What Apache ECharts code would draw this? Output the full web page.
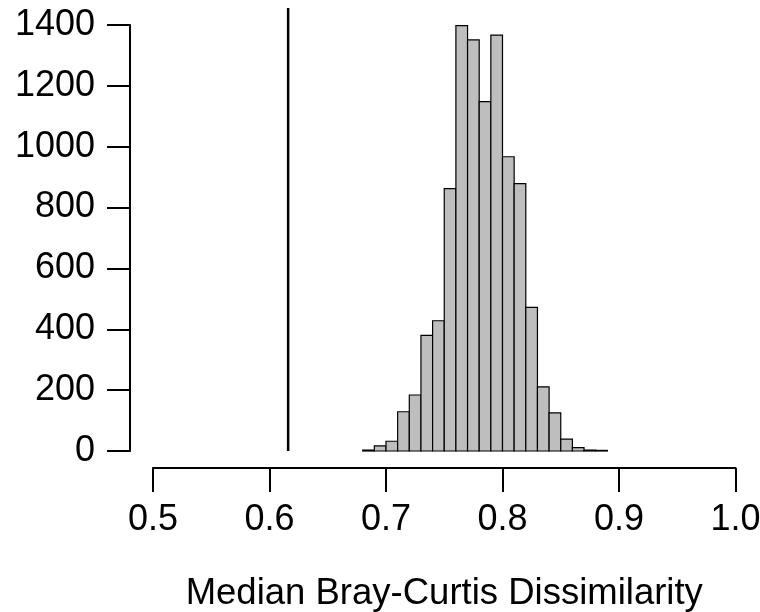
<!DOCTYPE html>
<html>
<head>
<meta charset="utf-8">
<script src="https://cdn.jsdelivr.net/npm/echarts@6/dist/echarts.min.js"></script>
<style>
  html, body { margin: 0; padding: 0; background: #fff; }
  #chart { width: 760px; height: 612px; }
</style>
</head>
<body>
<div id="chart"></div>
<script>
// histogram bins (width 0.01) and counts
const binStarts = [0.68, 0.69, 0.70, 0.71, 0.72, 0.73, 0.74, 0.75, 0.76, 0.77, 0.78,
                   0.79, 0.80, 0.81, 0.82, 0.83, 0.84, 0.85, 0.86, 0.87, 0.88];
const binWidth = 0.01;
const counts = [3, 17, 32, 129, 184, 380, 428, 862, 1398, 1351, 1148,
                1367, 967, 879, 472, 211, 125, 39, 11, 3, 2];
const observed = 0.616;   // observed median dissimilarity (vertical line)
const xTicks = [0.5, 0.6, 0.7, 0.8, 0.9, 1.0];
const yTicks = [0, 200, 400, 600, 800, 1000, 1200, 1400];

const font = 'Liberation Sans, Arial, Helvetica, sans-serif';

const bins = binStarts.map((s, i) => [s, +(s + binWidth).toFixed(2), counts[i]]);

let myChart = echarts.init(document.getElementById('chart'));
let option = {
  animation: false,
  grid: { left: 153, right: 24.5, top: 25, bottom: 161, containLabel: false, outerBoundsMode: 'none' },
  xAxis: {
    type: 'value',
    min: xTicks[0],
    max: xTicks[xTicks.length - 1],
    interval: 0.1,
    offset: 17,
    name: 'Median Bray-Curtis Dissimilarity',
    nameLocation: 'middle',
    nameGap: 107,
    nameMoveOverlap: false,
    nameTextStyle: { color: '#000', fontSize: 36.5, fontFamily: font },
    axisLine: { onZero: false, lineStyle: { color: '#000', width: 2 } },
    axisTick: { length: 24, lineStyle: { color: '#000', width: 2 } },
    axisLabel: {
      color: '#000', fontSize: 36, fontFamily: font, margin: 34,
      formatter: v => v.toFixed(1)
    },
    splitLine: { show: false }
  },
  yAxis: {
    type: 'value',
    min: yTicks[0],
    max: yTicks[yTicks.length - 1],
    interval: 200,
    offset: 23,
    axisLine: { show: true, onZero: false, lineStyle: { color: '#000', width: 2 } },
    axisTick: { show: true, length: 23, lineStyle: { color: '#000', width: 2 } },
    axisLabel: { color: '#000', fontSize: 36, fontFamily: font, margin: 35,
      formatter: v => String(v) },
    splitLine: { show: false }
  },
  series: [
    {
      type: 'custom',
      data: bins,
      renderItem: function (params, api) {
        const p0 = api.coord([api.value(0), api.value(2)]);
        const p1 = api.coord([api.value(1), 0]);
        return {
          type: 'rect',
          shape: { x: p0[0], y: p0[1], width: p1[0] - p0[0], height: p1[1] - p0[1] },
          style: { fill: '#bebebe', stroke: '#000', lineWidth: 1.2 }
        };
      }
    },
    {
      type: 'line',
      clip: false,
      showSymbol: false,
      silent: true,
      data: [[observed, 0], [observed, 1456]],
      lineStyle: { color: '#000', width: 2.5 }
    }
  ]
};

myChart.setOption(option);
window.onresize = myChart.resize;
</script>
</body>
</html>
